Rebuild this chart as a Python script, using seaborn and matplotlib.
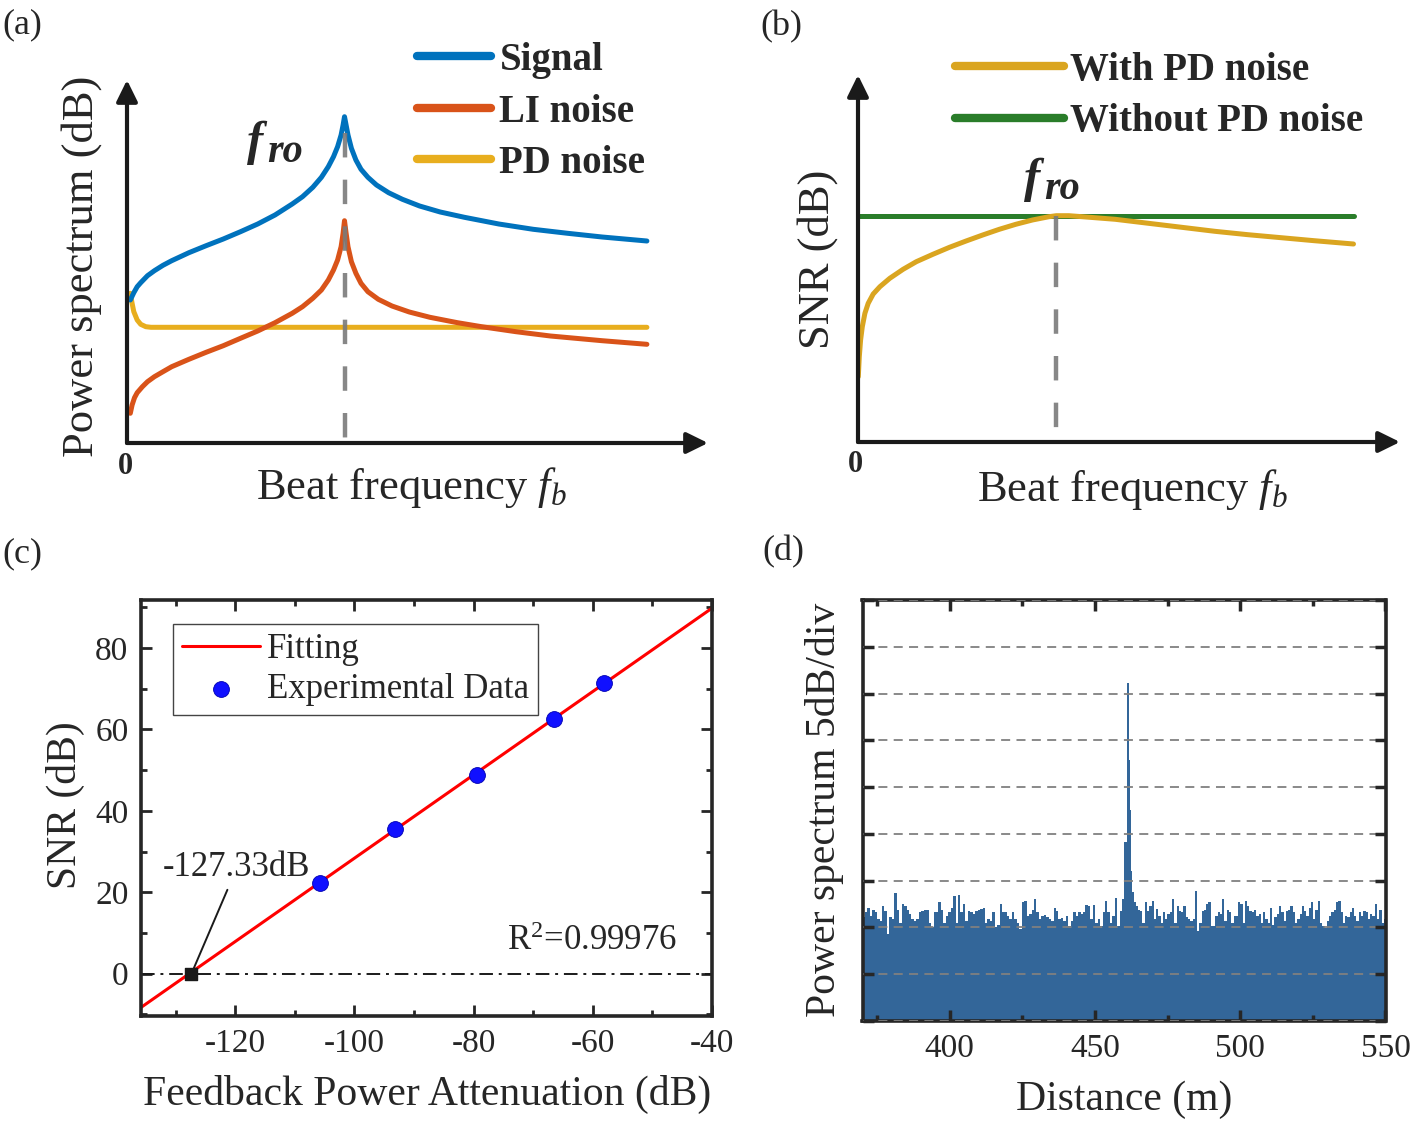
import matplotlib
matplotlib.use("Agg")
import matplotlib.pyplot as plt
from matplotlib.lines import Line2D
from matplotlib.ticker import MultipleLocator
import numpy as np
import seaborn as sns

W, H = 1416, 1124

# ---- (a) schematic spectra (x: px from origin, y: px above the axis)
sig_x = [3.3, 6.8, 10.2, 13.7, 20.5, 27.4, 36.0, 44.7, 53.3, 61.9, 79.1, 96.3, 113.5, 130.7, 148.0,
         165.2, 175.5, 185.8, 194.4, 201.3, 206.5, 210.6, 214.1, 216.1, 217.5, 218.9, 221.0, 224.4,
         228.9, 234.0, 240.9, 249.5, 261.6, 275.4, 292.6, 313.2, 337.4, 371.8, 406.2, 440.7, 475.1, 519.9]
sig_y = [143, 150.3, 156.3, 160.3, 167.3, 172.3, 177.7, 182.3, 186.3, 190.3, 197.3, 204, 211.3, 219, 228,
         239, 246.3, 255.7, 265.7, 276.3, 286.3, 296.3, 308, 318, 326.3, 319, 308, 294.7,
         283, 273.7, 265.7, 258, 250.3, 243.7, 237, 231, 225.7, 219, 213.7, 209.7, 206, 202]
li_x = [3.3, 5.1, 7.5, 10.2, 15.4, 20.5, 27.4, 36.0, 44.7, 61.9, 79.1, 96.3, 113.5, 130.7, 148.0,
        165.2, 175.5, 185.8, 194.4, 201.3, 206.5, 210.6, 214.1, 216.1, 217.5, 218.9, 221.0, 224.4,
        228.9, 234.0, 240.9, 251.3, 265.0, 282.3, 302.9, 330.5, 354.6, 389.0, 423.4, 475.1, 519.9]
li_y = [29.7, 38, 45.3, 50.3, 56.3, 61.3, 66.3, 71.3, 76.3, 83.7, 90.7, 97.3, 104.7, 112, 120.3,
        129.7, 136.3, 144.7, 153, 163, 173, 183, 196.3, 209.7, 222.3, 211.3, 196.3, 181.3,
        169.7, 159.7, 151.3, 143.7, 137, 131, 125.7, 120.3, 116.3, 111.3, 107, 102.3, 98.7]
pd_x = [3.3, 5.1, 6.8, 10.2, 13.7, 18.8, 24.0, 519.9]
pd_y = [149.7, 139.7, 131.3, 123, 118.7, 116.3, 115.7, 115.7]
fro_a = 217.5

# ---- (b) SNR schematic
snr_x = [0.3, 1.3, 2.6, 4.3, 6.9, 10.2, 15.2, 21.9, 31.8, 45.1, 58.3, 74.9, 91.5, 108.1, 124.7,
         141.3, 157.8, 174.4, 191.0, 198.3, 210.9, 224.2, 257.3, 290.5, 323.7, 356.8, 390.0,
         423.2, 456.3, 495.5]
snr_y = [65.3, 85.3, 102, 115.3, 128.7, 138.7, 148, 155.3, 163.7, 172.7, 180.3, 187.7, 194.7, 201,
         207, 212.7, 217.7, 222, 225.3, 226.3, 226.3, 225.3, 222.7, 218.7, 214.7, 210.7, 207.3,
         204.3, 201.3, 198]
nopd_x = [0.3, 495.5]
nopd_y = [226.3, 226.3]
fro_b = 198.3

# ---- (c) SNR vs feedback attenuation
exp_x = [-105.8, -93.2, -79.4, -66.5, -58.1]
exp_y = [22.2, 35.5, 48.9, 62.6, 71.4]
fit_x = [-135.8, -40]
fit_y = [-8.3, 89.8]
x_zero = -127.33

# ---- (d) measured power spectrum (dB above bottom, 5 dB/div)
noise_left = [11.1, 11.6, 12.1, 11.2, 11.9, 11.6, 10.9, 10.7, 12.3, 11.8, 9.3, 11.1, 10.9, 13.7, 11.9,
              10.5, 12.5, 12.3, 11.9, 11.4, 10.9, 10.7, 10.9, 11.6, 11.8, 11.9, 11.9, 10.5, 10.0, 11.6,
              11.6, 12.7, 11.9, 10.5, 11.2, 11.6, 12.1, 13.4, 10.5, 13.5, 11.6, 12.5, 10.7, 11.8, 11.6,
              11.4, 11.8, 11.9, 12.0, 12.1, 10.5, 10.9, 10.7, 11.6, 10.0, 10.3, 12.5, 11.6, 11.6, 11.2,
              10.9, 11.6, 10.9, 10.5, 9.8, 12.7, 12.8, 11.2, 11.4, 11.9, 13.0, 11.6,
              10.9, 11.2, 11.3, 11.1, 10.9, 10.7, 12.1, 11.8, 10.9, 11.0, 10.7, 11.2, 10.2, 10.7, 11.6,
              11.2, 11.6, 11.4, 11.6, 12.4, 12.3, 10.9, 12.4, 10.5, 10.9, 10.2, 11.6, 12.8, 11.6, 10.5,
              11.2, 13.1, 10.2, 11.8, 13.0]
peak_x = [460.5, 461.35, 461.95, 462.3, 462.7, 463.1]
peak_db = [19.1, 36.1, 27.9, 22.6, 16.0, 13.8]
noise_right = [12.7, 12.3, 11.9, 11.8, 10.5, 12.7, 11.8, 12.3, 12.8, 10.9, 12.0, 11.2, 10.5, 11.6,
               10.9, 11.4, 11.6, 13.0, 10.5, 12.3, 11.8, 11.6, 12.3, 11.1, 10.9, 10.7, 10.9, 13.9,
               9.6, 10.5, 11.8, 11.9, 12.5, 12.7, 10.2,
               10.2, 11.2, 11.6, 11.4, 13.0, 10.7, 11.9, 11.6, 10.5, 11.2, 11.2, 12.7, 12.5, 10.5,
               12.8, 12.3, 11.8, 11.6, 11.9, 11.2, 11.4, 10.5, 11.6, 10.9, 10.5, 12.1, 10.3, 11.1,
               11.4, 12.3, 11.6, 10.7, 11.8, 11.9, 12.3, 11.6, 10.5, 10.9, 11.4, 12.3, 11.8, 11.2,
               12.1, 12.7, 10.9, 11.9, 12.8, 10.5, 10.2, 9.9, 10.7, 11.2, 11.6, 11.9, 12.7, 12.8,
               11.6, 10.5, 11.2, 11.1, 11.6, 12.1, 11.2, 10.7, 11.6, 11.2, 11.8, 11.6, 10.9, 11.4,
               11.2, 12.5, 10.9, 11.9, 10.5, 10.9]

sns.set_theme(style="ticks")
plt.rcParams["font.family"] = ["Liberation Serif", "DejaVu Serif"]
plt.rcParams["mathtext.fontset"] = "custom"
plt.rcParams["mathtext.rm"] = "Liberation Serif"
plt.rcParams["mathtext.it"] = "Liberation Serif:italic"
plt.rcParams["mathtext.bf"] = "Liberation Serif:bold"
plt.rcParams["axes.unicode_minus"] = False

fig = plt.figure(figsize=(W / 100, H / 100), dpi=100)


def ftext(px, py, s, **kw):
    kw.setdefault("ha", "center")
    kw.setdefault("va", "center")
    fig.text(px / W, 1 - py / H, s, **kw)


def arrows(ax, xmax, ymax):
    style = dict(arrowstyle="-|>,head_length=0.65,head_width=0.32", lw=3, color="k",
                 mutation_scale=20, shrinkA=0, shrinkB=0)
    ax.annotate("", xy=(xmax, 0), xytext=(0, 0), arrowprops=style, annotation_clip=False)
    ax.annotate("", xy=(0, ymax), xytext=(0, 0), arrowprops=style, annotation_clip=False)


c_sig, c_li, c_pd = "#0072BD", "#D95319", "#E8AE1E"
c_with, c_without = "#DAA520", "#2A7D2A"
dash_c = "#7a7a7a"

# ---------------- (a)
axa = fig.add_axes([127 / W, 1 - 443 / H, 581 / W, 363 / H])
axa.set_xlim(0, 581)
axa.set_ylim(0, 363)
axa.axis("off")
sns.lineplot(x=pd_x, y=pd_y, ax=axa, color=c_pd, lw=3.6, estimator=None)
sns.lineplot(x=li_x, y=li_y, ax=axa, color=c_li, lw=3.6, estimator=None)
sns.lineplot(x=sig_x, y=sig_y, ax=axa, color=c_sig, lw=3.6, estimator=None)
axa.vlines(fro_a, 310, 0, color=dash_c, lw=3.2, ls=(0, (5.5, 5)), alpha=0.9, zorder=5)
arrows(axa, 581, 363)
handles_a = [Line2D([], [], color=c, lw=6) for c in (c_sig, c_li, c_pd)]
axa.legend(handles_a, ["Signal", "LI noise", "PD noise"], loc="center left",
           bbox_to_anchor=(417 / W, 1 - 112 / H), bbox_transform=fig.transFigure,
           frameon=False, prop={"weight": "bold", "size": 28}, handlelength=1.9,
           handletextpad=0.22, labelspacing=0.37, borderpad=0, borderaxespad=0)

# ---------------- (b)
axb = fig.add_axes([858 / W, 1 - 442 / H, 542 / W, 367 / H])
axb.set_xlim(0, 542)
axb.set_ylim(0, 367)
axb.axis("off")
sns.lineplot(x=nopd_x, y=nopd_y, ax=axb, color=c_without, lw=3.6, estimator=None)
sns.lineplot(x=snr_x, y=snr_y, ax=axb, color=c_with, lw=3.6, estimator=None)
axb.vlines(fro_b, 226.3, 0, color=dash_c, lw=3.2, ls=(0, (5.5, 5)), alpha=0.9, zorder=5)
arrows(axb, 542, 367)
handles_b = [Line2D([], [], color=c, lw=6) for c in (c_with, c_without)]
axb.legend(handles_b, ["With PD noise", "Without PD noise"], loc="center left",
           bbox_to_anchor=(955 / W, 1 - 96 / H), bbox_transform=fig.transFigure,
           frameon=False, prop={"weight": "bold", "size": 28}, handlelength=2.8,
           handletextpad=0.17, labelspacing=0.38, borderpad=0, borderaxespad=0)

# ---------------- (c)
axc = fig.add_axes([141 / W, 1 - 1016 / H, 571 / W, 416 / H])
axc.axhline(0, color="k", lw=1.4, ls=(0, (7, 3, 1.5, 3)), zorder=1)
sns.lineplot(x=fit_x, y=fit_y, ax=axc, color="red", lw=2.2, label="Fitting", estimator=None)
sns.scatterplot(x=exp_x, y=exp_y, ax=axc, color="#1010ff", s=130, edgecolor="#0000b0",
                linewidth=0.6, label="Experimental Data", zorder=3)
axc.scatter([x_zero], [0], marker="s", s=80, color="k", zorder=4)
axc.annotate("-127.33dB", xy=(x_zero, 0), xytext=(-119.7, 24.0), ha="center", va="baseline",
             fontsize=25, arrowprops=dict(arrowstyle="-", lw=1.4, color="k", shrinkA=2, shrinkB=0))
axc.text(-60.2, 5.8, "R$^{2}$=0.99976", ha="center", va="baseline", fontsize=25)
axc.set_xlim(-135.8, -40)
axc.set_ylim(-10.4, 91.8)
axc.set_xticks([-120, -100, -80, -60, -40])
axc.set_yticks([0, 20, 40, 60, 80])
axc.xaxis.set_minor_locator(MultipleLocator(10))
axc.yaxis.set_minor_locator(MultipleLocator(10))
axc.tick_params(which="both", direction="in", top=True, right=True, width=2, labelsize=24, pad=9)
axc.tick_params(which="major", length=8)
axc.tick_params(which="minor", length=4)
for s in axc.spines.values():
    s.set_linewidth(2.6)
axc.set_xlabel("")
axc.set_ylabel("")
leg = axc.legend(loc="upper left", bbox_to_anchor=(0.056, 0.942), borderaxespad=0, frameon=True,
                 fancybox=False, edgecolor="#444444", framealpha=1, fontsize=25,
                 handlelength=2.25, handletextpad=0.2, labelspacing=0.22, borderpad=0.25)
leg.get_frame().set_linewidth(1.0)

# ---------------- (d)
axd = fig.add_axes([862.5 / W, 1 - 1021 / H, 523 / W, 421 / H])
dist = np.concatenate([np.linspace(370.4, 459.8, len(noise_left)), peak_x,
                       np.linspace(463.6, 549.8, len(noise_right))])
level = np.concatenate([noise_left, peak_db, noise_right])
axd.fill_between(dist, 0, level, step="mid", color="#336699", lw=0, zorder=1)
axd.set_xlim(370, 550)
axd.set_ylim(0, 45)
axd.set_xticks([400, 450, 500, 550])
axd.xaxis.set_minor_locator(MultipleLocator(25))
axd.set_yticks(range(0, 46, 5))
axd.set_yticklabels([])
axd.set_axisbelow(False)
axd.yaxis.grid(True, ls=(0, (5, 3.5)), color="#808080", lw=1.3)
axd.tick_params(which="both", direction="in", top=True, right=True, width=2.5, labelsize=24, pad=9)
axd.tick_params(which="major", length=8)
axd.tick_params(which="minor", length=4)
for s in axd.spines.values():
    s.set_linewidth(2.6)

# ---------------- texts
ftext(2, 25, "(a)", fontsize=26, ha="left")
ftext(760, 27, "(b)", fontsize=26, ha="left")
ftext(2, 554, "(c)", fontsize=26, ha="left")
ftext(762, 552, "(d)", fontsize=26, ha="left")

ftext(82, 266, "Power spectrum (dB)", rotation=90, fontsize=32)
ftext(411, 487, "Beat frequency $f_b$", fontsize=32)
ftext(125, 467, "0", fontsize=22, weight="bold")
ftext(247, 155, "f", fontsize=35, weight="bold", style="italic", ha="left", va="baseline")
ftext(267, 162, "ro", fontsize=29, weight="bold", style="italic", ha="left", va="baseline")

ftext(818, 259, "SNR (dB)", rotation=90, fontsize=32)
ftext(1132, 490, "Beat frequency $f_b$", fontsize=32)
ftext(855, 465, "0", fontsize=22, weight="bold")
ftext(1024, 192, "f", fontsize=35, weight="bold", style="italic", ha="left", va="baseline")
ftext(1044, 199, "ro", fontsize=29, weight="bold", style="italic", ha="left", va="baseline")

ftext(427, 1094, "Feedback Power Attenuation (dB)", fontsize=30)
ftext(65, 805, "SNR (dB)", rotation=90, fontsize=30)
ftext(1124, 1100, "Distance (m)", fontsize=30)
ftext(824, 810, "Power spectrum 5dB/div", rotation=90, fontsize=30)

fig.savefig("out.png", dpi=100)
plt.close(fig)
